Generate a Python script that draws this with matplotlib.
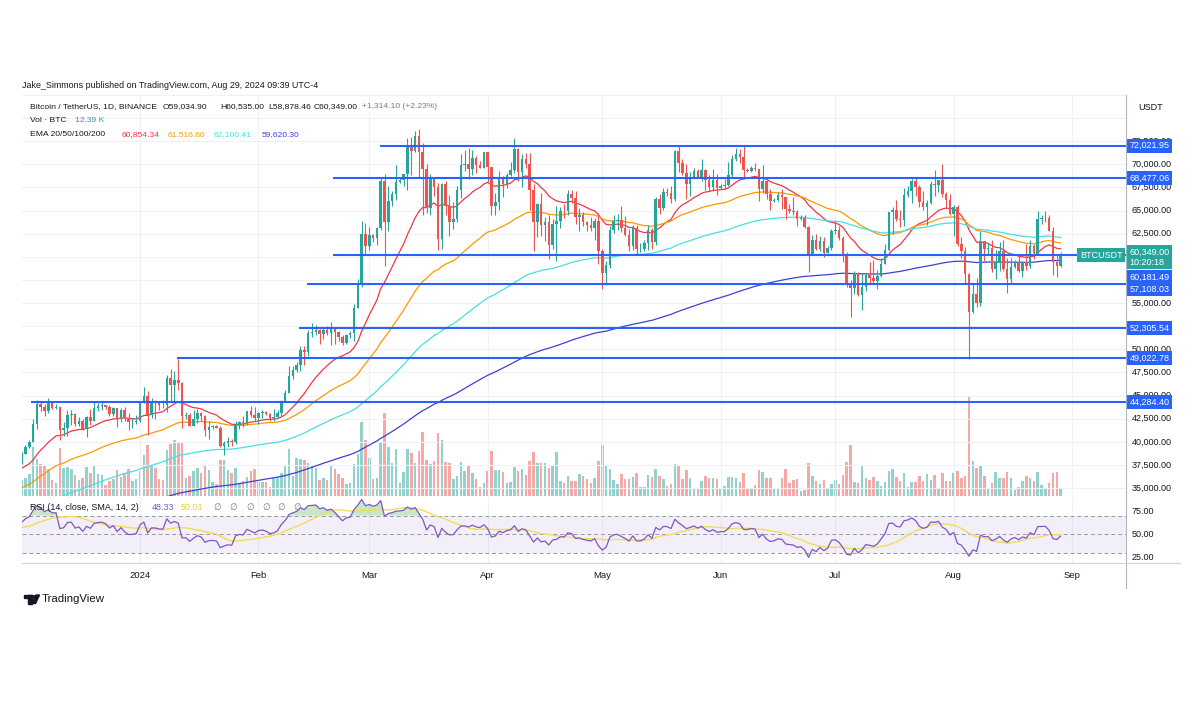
import numpy as np
import pandas as pd
import matplotlib
matplotlib.use('Agg')
import matplotlib.pyplot as plt
import matplotlib.dates as mdates
from matplotlib.lines import Line2D
from matplotlib.patches import Rectangle, Circle, Polygon
from matplotlib.transforms import blended_transform_factory

plt.rcParams['font.family'] = ['Liberation Sans', 'DejaVu Sans']

# ---- BTCUSDT daily (Binance) ----
dates = pd.date_range('2023-12-01', '2024-08-29', freq='D')

# November closes, only used to warm up the RSI
nov_close = [35420, 34940, 34730, 35080, 35050, 35040, 35420, 35630, 36700, 37310,
             37140, 37070, 36490, 35550, 37880, 36160, 36600, 36570, 37370, 37450,
             35750, 37420, 37290, 37720, 37800, 37450, 37240, 37830, 37860, 37710]

close = [
    # Dec
    38690, 39470, 39980, 41980, 44080, 43770, 43290, 44170, 43710, 43790, 41240, 41450, 42890, 43020, 41930, 42240,
    41360, 42660, 42270, 43650, 43870, 44000, 43740, 43020, 43610, 42520, 43440, 42630, 42100, 42140, 42280,
    # Jan
    44180, 44960, 42850, 44180, 44160, 43970, 43930, 46950, 46110, 46650, 46340, 42780, 42850, 41730, 42510, 43140,
    42780, 41260, 41620, 41660, 41550, 39510, 39850, 40080, 39930, 41820, 42120, 42030, 43300, 42940, 42580,
    # Feb
    43080, 43200, 43010, 42580, 42710, 43100, 44340, 45290, 47150, 47770, 48290, 49960, 49700, 51800, 51910,
    52140, 51650, 52120, 51780, 52260, 51850, 51300, 50730, 51570, 51730, 54480, 57040, 62430, 61130,
    # Mar
    62390, 61990, 63110, 68250, 63720, 66070, 66820, 68120, 68310, 68960, 72080, 71450, 73070, 71390, 69500, 65300,
    68390, 67600, 61940, 67840, 65500, 63800, 64040, 67210, 69880, 69990, 69460, 70740, 69890, 69650, 71330,
    # Apr
    69700, 65450, 65980, 68510, 67840, 68900, 69360, 71630, 69140, 70590, 70060, 67200, 63820, 65740, 63430,
    63810, 61280, 63510, 63840, 64990, 64930, 66840, 66410, 64280, 64480, 63760, 63420, 63110, 63840, 60640,
    # May
    58250, 59120, 62890, 63890, 64010, 63170, 62310, 61190, 63070, 60800, 60830, 61480, 62940, 61580, 66210, 65240,
    67020, 66920, 66270, 71450, 70140, 69120, 67930, 68530, 69270, 68520, 69390, 68300, 67580, 68360, 67490,
    # Jun
    67710, 67750, 68800, 70570, 71080, 70760, 69340, 69310, 69650, 69510, 67320, 68240, 66760, 66010, 66190,
    66640, 66490, 65140, 64960, 64830, 64100, 64250, 63180, 60280, 61800, 60860, 61710, 60430, 60990, 62770,
    # Jul
    62900, 62030, 60200, 57040, 56640, 58230, 55860, 56710, 58050, 57730, 57350, 57900, 59230, 60790, 64870, 65100,
    64120, 63970, 66710, 67160, 68170, 67530, 65940, 65370, 65780, 67910, 67810, 68260, 66820, 66200, 64620,
    # Aug
    65360, 61420, 60680, 58120, 53990, 56030, 55030, 61710, 60880, 60950, 58720, 59360, 60610, 58740, 57560,
    58870, 59490, 58430, 59490, 59010, 61160, 60380, 64090, 64180, 64220, 62830, 59420, 59034.9, 60349,
]

high = [
    38950, 39700, 40200, 42420, 44490, 44300, 44050, 44700, 44360, 44040, 43800, 42100, 43430, 43400, 43090, 42700,
    42420, 42770, 43500, 44280, 44200, 44400, 44000, 43950, 43800, 43650, 43680, 43800, 43130, 42600, 42900,
    44180, 45880, 45500, 44730, 44500, 44230, 44500, 47250, 47890, 47700, 48970, 46500, 43260, 43070, 43400, 43580,
    43200, 42930, 42200, 41870, 41860, 41680, 40130, 40500, 40290, 42200, 42200, 42840, 43300, 43880, 43740,
    43250, 43480, 43380, 43120, 43500, 43420, 44520, 45600, 48200, 48170, 48590, 50330, 50370, 52040, 52820,
    52580, 52200, 52350, 52490, 52980, 52370, 52030, 51550, 51700, 51950, 54900, 57590, 63900, 63680,
    63200, 62450, 63220, 68500, 69000, 67640, 67100, 69900, 68590, 69000, 72800, 72920, 73650, 73780, 72360, 70000,
    68920, 68500, 68000, 68030, 68240, 66650, 65970, 67620, 71150, 71560, 71740, 71550, 70900, 70350, 71370,
    71340, 69700, 66910, 69290, 68720, 69080, 70300, 72800, 71760, 71170, 71280, 71230, 67930, 65830, 66860,
    64360, 64480, 64120, 65450, 65390, 65720, 67200, 67210, 67080, 65300, 64800, 63920, 64350, 64230, 64700,
    60850, 59600, 63320, 64500, 64630, 65500, 64400, 62990, 63420, 63470, 61480, 61820, 63440, 63100, 66440, 66800,
    67450, 67400, 67700, 71500, 71950, 70630, 70080, 69220, 69560, 69510, 70610, 69540, 68900, 69500, 69000,
    67860, 68450, 70280, 71060, 71760, 71620, 71980, 69580, 69850, 70150, 69550, 69980, 68400, 67300, 66400,
    66980, 67300, 66490, 65730, 66480, 65070, 64520, 64510, 63370, 62400, 62480, 62300, 62180, 61200, 63000,
    63840, 63300, 62280, 60500, 57500, 58480, 58370, 58240, 58300, 59470, 59650, 58600, 59850, 61420, 64900, 65390,
    66130, 65120, 67470, 67620, 68370, 68500, 67800, 67100, 66150, 68240, 69400, 68300, 70080, 66970, 66800,
    65590, 65600, 62170, 61100, 58290, 57040, 57720, 62750, 61750, 61470, 61850, 60700, 61580, 61800, 59850,
    59850, 59700, 60260, 59600, 61400, 61830, 61400, 64950, 64520, 65000, 64480, 63210, 60230, 60535,
]

low = [
    37620, 38650, 39280, 39980, 41420, 43340, 42820, 43080, 43580, 43560, 40220, 40680, 40670, 41800, 41660, 41680,
    41250, 40500, 41800, 42200, 43330, 43390, 43570, 42800, 42770, 41600, 42100, 42300, 41300, 41500, 41960,
    42180, 44150, 40750, 42630, 42450, 43420, 43620, 43200, 44300, 44350, 45600, 41500, 42440, 41720, 41700, 42050,
    42200, 40680, 40280, 41440, 41470, 39430, 38550, 39480, 39540, 39800, 41390, 41620, 41800, 42680, 42280,
    41880, 42580, 42880, 42260, 42250, 42580, 42790, 44330, 45240, 46800, 47550, 47710, 48300, 49280, 51320,
    51600, 50620, 51150, 51520, 50520, 50630, 50940, 50520, 50580, 51280, 50900, 54450, 56690, 60360,
    60780, 61610, 61320, 62880, 59000, 62790, 65500, 66150, 67940, 67700, 67190, 68850, 71330, 68560, 64500, 64780,
    64520, 66570, 60780, 60800, 64530, 62260, 63000, 63790, 66390, 69280, 68380, 68900, 69070, 69570, 69600,
    68060, 64500, 64490, 65060, 66500, 67450, 68710, 69040, 68200, 67500, 69560, 65090, 60660, 62200, 62300,
    61720, 59770, 60830, 59600, 63100, 64240, 64540, 65840, 63600, 62800, 63300, 62800, 62800, 61800, 59190,
    56550, 56940, 58830, 62620, 62880, 62700, 62250, 60630, 60750, 60190, 60500, 60630, 60770, 60800, 61330, 64610,
    65100, 66600, 65860, 66060, 69160, 68830, 66300, 66620, 68530, 68480, 68250, 67200, 67150, 67100, 66670,
    67390, 67300, 67610, 68560, 70380, 70120, 68500, 69180, 69130, 69230, 66050, 66900, 66300, 65080, 65880,
    66050, 65130, 64060, 64690, 64500, 63380, 63940, 63150, 58400, 60260, 60710, 60630, 60000, 60380, 60700,
    62520, 61780, 59400, 56770, 53480, 56000, 55750, 54260, 56300, 57160, 57050, 56550, 57770, 59230, 60660, 62470,
    63870, 63250, 63300, 66430, 65800, 66570, 65440, 65100, 63450, 65700, 66630, 67000, 66520, 65300, 64500,
    62250, 61200, 59850, 57200, 49000, 53960, 54560, 54730, 59580, 60270, 58410, 57650, 58470, 58430, 56080,
    57100, 58790, 58400, 57860, 58610, 58780, 59810, 60350, 63600, 63800, 62800, 58030, 57860, 58878.46,
]

# volume, thousand BTC
volume = [
    24, 27, 33, 73.5, 55.5, 48, 45, 40.5, 24, 19.5, 72, 42, 43.5, 40.5, 31.5, 24,
    27, 43.5, 34.5, 46.5, 33, 31.5, 16.5, 22.5, 25.5, 39, 28.5, 34.5, 40.5, 22.5, 25.5,
    37.5, 61.5, 76.5, 45, 42, 25.5, 24, 69, 78, 84, 81, 81, 27, 30, 37.5, 42,
    34.5, 45, 39, 21, 18, 54, 54, 39, 34.5, 42, 19.5, 22.5, 28.5, 37.5, 40.5,
    21, 21, 21, 13.5, 27, 27, 34.5, 45, 70.5, 30, 57, 55.5, 54, 49.5, 45,
    42, 24, 27, 24, 46.5, 40.5, 33, 27, 18, 19.5, 48, 63, 111, 84,
    57, 25.5, 27, 79.5, 124.5, 73.5, 49.5, 70.5, 19.5, 36, 70.5, 64.5, 49.5, 67.5, 96, 54,
    48, 52.5, 94.5, 84, 51, 49.5, 25.5, 30, 51, 37.5, 46.5, 34.5, 25.5, 13.5, 19.5,
    37.5, 67.5, 39, 39, 36, 19.5, 21, 43.5, 37.5, 40.5, 31.5, 52.5, 66, 49.5, 49.5,
    49.5, 42, 45, 66, 22.5, 19.5, 30, 22.5, 22.5, 33, 30, 25.5, 19.5, 27, 52.5,
    76.5, 45, 40.5, 24, 18, 33, 25.5, 25.5, 28.5, 34.5, 13.5, 13.5, 31.5, 28.5, 40.5, 30,
    25.5, 15, 18, 48, 46.5, 25.5, 39, 27, 12, 12, 22.5, 30, 27, 27, 25.5,
    10.5, 15, 28.5, 28.5, 27, 21, 34.5, 10.5, 10.5, 16.5, 39, 36, 27, 27, 12,
    10.5, 27, 40.5, 19.5, 24, 25.5, 7.5, 9, 49.5, 30, 22.5, 18, 24, 12, 18,
    24, 18, 31.5, 51, 76.5, 21, 19.5, 46.5, 27, 24, 28.5, 22.5, 15, 21, 37.5, 40.5,
    28.5, 22.5, 34.5, 13.5, 21, 21, 30, 22.5, 33, 24, 31.5, 12, 34.5, 22.5, 22.5,
    34.5, 37.5, 27, 30, 150, 52.5, 42, 46.5, 30, 10.5, 19.5, 36, 27, 27, 36,
    27, 9, 13.5, 22.5, 30, 27, 22.5, 36, 16.5, 12, 19.5, 34.5, 36, 12.39,
]

# EMA settings and their values on Nov 30 (start of the recursion)
ema_len = [20, 50, 100, 200]
ema_start = [37000, 34900, 32000, 29800]
ema_colors = ['#f23645', '#ff9800', '#45dfe6', '#3f3fd8']

# horizontal levels drawn by the author, and where each one starts
levels = [72021.95, 68477.06, 60181.49, 57108.03, 52305.54, 49022.78, 44284.40]
level_start = ['2024-03-03 20:00', '2024-02-20 12:00', '2024-02-20 12:00', '2024-02-13 17:00',
               '2024-02-11 15:00', '2024-01-10 17:00', '2023-12-03 11:00']
label_shift = [0, 0, -16, -4, 0, 0, 0]   # points, label pushed away from the last-price tag

price_ticks = np.arange(35000, 72501, 2500)
covered_ticks = [52500, 57500, 60000]    # fully hidden behind the level tags

month_ticks = pd.date_range('2024-01-01', '2024-09-01', freq='MS')
month_labels = ['2024', 'Feb', 'Mar', 'Apr', 'May', 'Jun', 'Jul', 'Aug', 'Sep']

UP, DOWN = '#26a69a', '#ef5350'
TXT = '#131722'
W, H = 1200, 728


def ema(values, length, start):
    s = pd.Series(np.r_[start, values])
    return s.ewm(span=length, adjust=False).mean().to_numpy()[1:]


def rsi(values, n=14):
    diff = np.diff(values)
    gain = np.clip(diff, 0, None)
    loss = np.clip(-diff, 0, None)
    ag = np.full(len(diff), np.nan)
    al = np.full(len(diff), np.nan)
    ag[n - 1] = gain[:n].mean()
    al[n - 1] = loss[:n].mean()
    for i in range(n, len(diff)):
        ag[i] = (ag[i - 1] * (n - 1) + gain[i]) / n
        al[i] = (al[i - 1] * (n - 1) + loss[i]) / n
    return np.r_[np.nan, 100 - 100 / (1 + ag / al)]


def px_box(x0, y0, x1, y1):
    return [x0 / W, 1 - y1 / H, (x1 - x0) / W, (y1 - y0) / H]


def ftext(x, y, s, **kw):
    kw.setdefault('fontsize', 6.1)
    kw.setdefault('color', TXT)
    fig.text(x / W, 1 - y / H, s, va='center', ha='left', **kw)


c = np.array(close, float)
o = np.r_[nov_close[-1], c[:-1]]
hi = np.maximum(np.array(high, float), np.maximum(o, c))
lo = np.minimum(np.array(low, float), np.minimum(o, c))
up = c >= o
x = mdates.date2num(dates)

all_close = np.r_[nov_close, c]
r_all = rsi(all_close)
r_ma_all = pd.Series(r_all).rolling(14).mean().to_numpy()
r = r_all[len(nov_close):]
r_ma = r_ma_all[len(nov_close):]

fig = plt.figure(figsize=(12, 7.28), dpi=100)
fig.patch.set_facecolor('white')

ax_vol = fig.add_axes(px_box(22, 95, 1126, 496))
ax = fig.add_axes(px_box(22, 95, 1126, 496), sharex=ax_vol)
ax_rsi = fig.add_axes(px_box(22, 497, 1126, 562.5), sharex=ax_vol)
ax.patch.set_alpha(0)

jan1 = mdates.date2num(pd.Timestamp('2024-01-01'))
xmin, xmax = jan1 - 30.9, jan1 + 258.1
ax_vol.set_xlim(xmin, xmax)

for a in (ax_vol, ax, ax_rsi):
    for sp in a.spines.values():
        sp.set_visible(False)
    a.tick_params(length=0, labelleft=False, labelbottom=False)

# volume overlay
vol_col = np.where(up, UP + '80', DOWN + '80')
ax_vol.bar(x, volume, width=0.66, color=vol_col, linewidth=0)
ax_vol.set_ylim(0, 601)
ax_vol.set_yticks([])

# price pane
ax.set_ylim(34144, 77064)
ax.set_yticks(np.arange(35000, 77501, 2500))
ax.set_xticks(month_ticks)
ax.grid(color='#eef1f6', lw=0.8)
ax.set_axisbelow(True)

for n, s0, col in zip(ema_len, ema_start, ema_colors):
    ax.plot(x, ema(c, n, s0), color=col, lw=0.9, zorder=2)

col = np.where(up, UP, DOWN)
ax.vlines(x, lo, hi, colors=col, lw=0.8, zorder=3)
ax.bar(x, np.maximum(np.abs(c - o), 70), bottom=np.minimum(o, c), width=0.66,
       color=col, linewidth=0, zorder=4)

for lv, st in zip(levels, level_start):
    ax.hlines(lv, mdates.date2num(pd.Timestamp(st)), xmax, color='#2962ff', lw=1.5, zorder=5)

# right price scale
tr = blended_transform_factory(ax.transAxes, ax.transData)
for p in price_ticks:
    if p in covered_ticks:
        continue
    ax.text(1.0054, p, f'{p:,.2f}', transform=tr, ha='left', va='center',
            fontsize=6.5, color=TXT, clip_on=False, zorder=6)
for lv, dy in zip(levels, label_shift):
    ax.annotate(f'{lv:,.2f}', xy=(1.0, lv), xycoords=tr, xytext=(2.6, dy),
                textcoords='offset points', ha='left', va='center', fontsize=6.5,
                color='white', annotation_clip=False, zorder=8,
                bbox=dict(boxstyle='square,pad=0.28', fc='#2962ff', ec='none'))
ax.annotate('60,349.00\n10:20:18', xy=(1.0, c[-1]), xycoords=tr, xytext=(2.6, 4.4),
            textcoords='offset points', ha='left', va='top', fontsize=6.5,
            color='white', annotation_clip=False, zorder=9, linespacing=1.15,
            bbox=dict(boxstyle='square,pad=0.28', fc=UP, ec='none'))
ax.annotate('BTCUSDT', xy=(1.0, c[-1]), xycoords=tr, xytext=(-2.5, -1),
            textcoords='offset points', ha='right', va='center', fontsize=6.5,
            color='white', annotation_clip=False, zorder=9,
            bbox=dict(boxstyle='square,pad=0.3', fc=UP, ec='none'))

# RSI pane
ax_rsi.set_ylim(20.2, 89.9)
ax_rsi.set_yticks([])
ax_rsi.set_xticks(month_ticks)
ax_rsi.grid(axis='x', color='#eef1f6', lw=0.8)
ax_rsi.set_axisbelow(True)
ax_rsi.axhspan(30, 70, color='#7e57c2', alpha=0.09, lw=0)
for v in (70, 50, 30):
    ax_rsi.axhline(v, color='#9598a1', lw=0.7, ls=(0, (4, 3)))
ax_rsi.fill_between(x, r, 70, where=r > 70, interpolate=True, color='#4caf50', alpha=0.3, lw=0)
ax_rsi.fill_between(x, r, 30, where=r < 30, interpolate=True, color='#ef5350', alpha=0.3, lw=0)
ax_rsi.plot(x, r_ma, color='#f2dc55', lw=1.0)
ax_rsi.plot(x, r, color='#7e57c2', lw=0.9)
trr = blended_transform_factory(ax_rsi.transAxes, ax_rsi.transData)
for v in (75, 50, 25):
    ax_rsi.text(1.0054, v, f'{v:.2f}', transform=trr, ha='left', va='center',
                fontsize=6.5, color=TXT, clip_on=False)
ax_rsi.tick_params(labelbottom=True, pad=6, labelsize=6.8, labelcolor=TXT)
ax_rsi.set_xticklabels(month_labels)

# frame lines
fig.add_artist(Line2D([1126 / W] * 2, [1 - 95 / H, 1 - 588 / H], color='#b2b5be', lw=0.8))
fig.add_artist(Line2D([22 / W, 1180 / W], [1 - 562.5 / H] * 2, color='#d1d4dc', lw=0.8))

# header text
ftext(22, 85, 'Jake_Simmons published on TradingView.com, Aug 29, 2024 09:39 UTC-4', fontsize=6.4)
ftext(30, 107, 'Bitcoin / TetherUS, 1D, BINANCE')
ftext(163, 107, 'O59,034.90')
ftext(220, 107, 'H60,535.00')
ftext(268, 107, 'L58,878.46')
ftext(314, 107, 'C60,349.00')
ftext(362, 107, '+1,314.10 (+2.23%)', color='#787b86')
ftext(30, 120.5, 'Vol · BTC')
ftext(75, 120.5, '12.39 K', color=UP)
ftext(30, 134.5, 'EMA 20/50/100/200')
for xp, s, colr in zip([122, 168, 214, 262],
                       ['60,854.34', '61,516.60', '62,100.41', '59,620.30'], ema_colors):
    ftext(xp, 134.5, s, color=colr)
ftext(1138, 108, 'USDT', fontsize=6.5)

ftext(30, 507.5, 'RSI (14, close, SMA, 14, 2)', fontsize=6.4)
ftext(152, 507.5, '48.33', color='#7e57c2', fontsize=6.4)
ftext(181, 507.5, '50.01', color='#e8cf2a', fontsize=6.4)
for xp in [213, 229, 246, 262, 277, 293]:
    ftext(xp, 507.5, '∅', color='#787b86', fontsize=6.4)

# TradingView logo
def fp(xp, yp):
    return (xp / W, 1 - yp / H)

logo = '#131722'
fig.add_artist(Rectangle(fp(24, 598), 7.5 / W, 3 / H, color=logo, transform=fig.transFigure))
fig.add_artist(Rectangle(fp(28, 603.5), 3.5 / W, 8.5 / H, color=logo, transform=fig.transFigure))
fig.add_artist(Circle(fp(33.8, 596.8), 1.7 / W, color=logo, transform=fig.transFigure))
fig.add_artist(Polygon([fp(36, 595), fp(39.5, 595), fp(35.5, 603.5), fp(32, 603.5)],
                       closed=True, color=logo, transform=fig.transFigure))
ftext(42, 599.5, 'TradingView', fontsize=8.2)

fig.savefig('out.png', dpi=100, facecolor='white')
